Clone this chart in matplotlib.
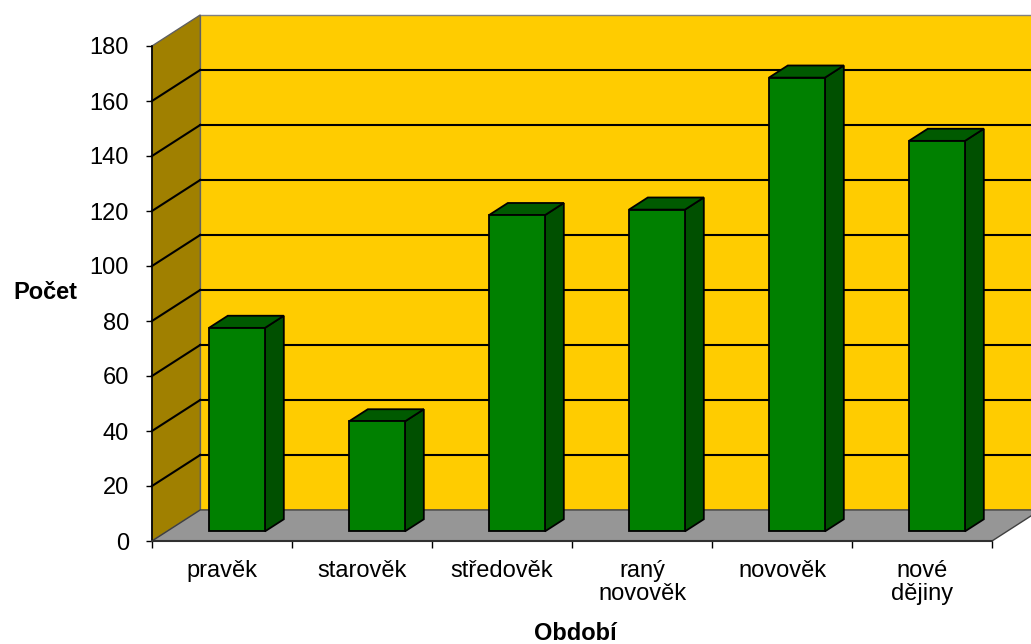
import numpy as np
import matplotlib.pyplot as plt
from matplotlib.patches import Polygon

# data
categories = ['pravěk', 'starověk', 'středověk', 'raný\nnovověk', 'novověk', 'nové\ndějiny']
values = [74, 40, 115, 117, 165, 142]
y_ticks = list(range(0, 181, 20))

plt.rcParams['font.family'] = ['Liberation Sans', 'DejaVu Sans']

# oblique "3d" depth offset in data units (x: categories, y: value)
DX = 0.345
DY = 11.3
f0, f1 = 0.31, 0.70   # bar front / back depth
w = 0.4               # bar width
ymax = 180
n = len(categories)

fig = plt.figure(figsize=(10.31, 6.44), dpi=100)
ax = fig.add_axes([152/1031, 103/644, 840/1031, 495/644])
ax.set_xlim(0, n)
ax.set_ylim(0, ymax)
ax.patch.set_visible(False)
for s in ax.spines.values():
    s.set_visible(False)

def off(x, y, f):
    return (x + f*DX, y + f*DY)

def poly(pts, fc, ec, lw=1.0, z=1):
    p = Polygon(pts, closed=True, facecolor=fc, edgecolor=ec, lw=lw, zorder=z, clip_on=False)
    ax.add_patch(p)

# walls and floor
poly([off(0, 0, 1), off(n, 0, 1), off(n, ymax, 1), off(0, ymax, 1)], '#FFCC00', '#808080', 1.0, 1)
poly([(0, 0), off(0, 0, 1), off(0, ymax, 1), (0, ymax)], '#A08000', '#606060', 1.0, 1)
poly([(0, 0), (n, 0), off(n, 0, 1), off(0, 0, 1)], '#969696', '#404040', 1.0, 1)

# gridlines on back wall and left wall
for t in y_ticks[1:-1]:
    x0, y0 = off(0, t, 1)
    x1, y1 = off(n, t, 1)
    ax.plot([x0, x1], [y0, y1], color='black', lw=1.5, zorder=2, clip_on=False)
    ax.plot([0, x0], [t, y0], color='black', lw=1.5, zorder=2, clip_on=False)

# bars
for i, v in enumerate(values):
    xl = i + 0.5 - w/2
    xr = i + 0.5 + w/2
    front = [off(xl, 0, f0), off(xr, 0, f0), off(xr, v, f0), off(xl, v, f0)]
    side = [off(xr, 0, f0), off(xr, 0, f1), off(xr, v, f1), off(xr, v, f0)]
    top = [off(xl, v, f0), off(xr, v, f0), off(xr, v, f1), off(xl, v, f1)]
    poly(side, '#005000', 'black', 1.3, 3)
    poly(top, '#005A00', 'black', 1.3, 3)
    poly(front, '#008000', 'black', 1.3, 4)

# axis lines
ax.plot([0, 0], [0, ymax], color='black', lw=1.2, zorder=5, clip_on=False)
ax.plot([0, n], [0, 0], color='#303030', lw=1.5, zorder=5, clip_on=False)

ax.set_yticks(y_ticks)
ax.set_yticklabels([str(t) for t in y_ticks], fontsize=17)
ax.tick_params(axis='y', direction='out', length=4.5, width=1, pad=12)
ax.set_xticks(range(n + 1))
ax.set_xticklabels([])
ax.set_xticks(np.arange(n) + 0.5, minor=True)
ax.set_xticklabels(categories, minor=True, fontsize=17, linespacing=1.05)
ax.tick_params(axis='x', which='minor', length=0, pad=14)
ax.tick_params(axis='x', which='major', direction='out', length=5, width=1)

fig.text(45/1031, 1 - 292/644, 'Počet', fontsize=17, fontweight='bold', ha='center', va='center')
fig.text(575/1031, 1 - 634/644, 'Období', fontsize=17, fontweight='bold', ha='center', va='center')

fig.savefig('out.png', dpi=100)
